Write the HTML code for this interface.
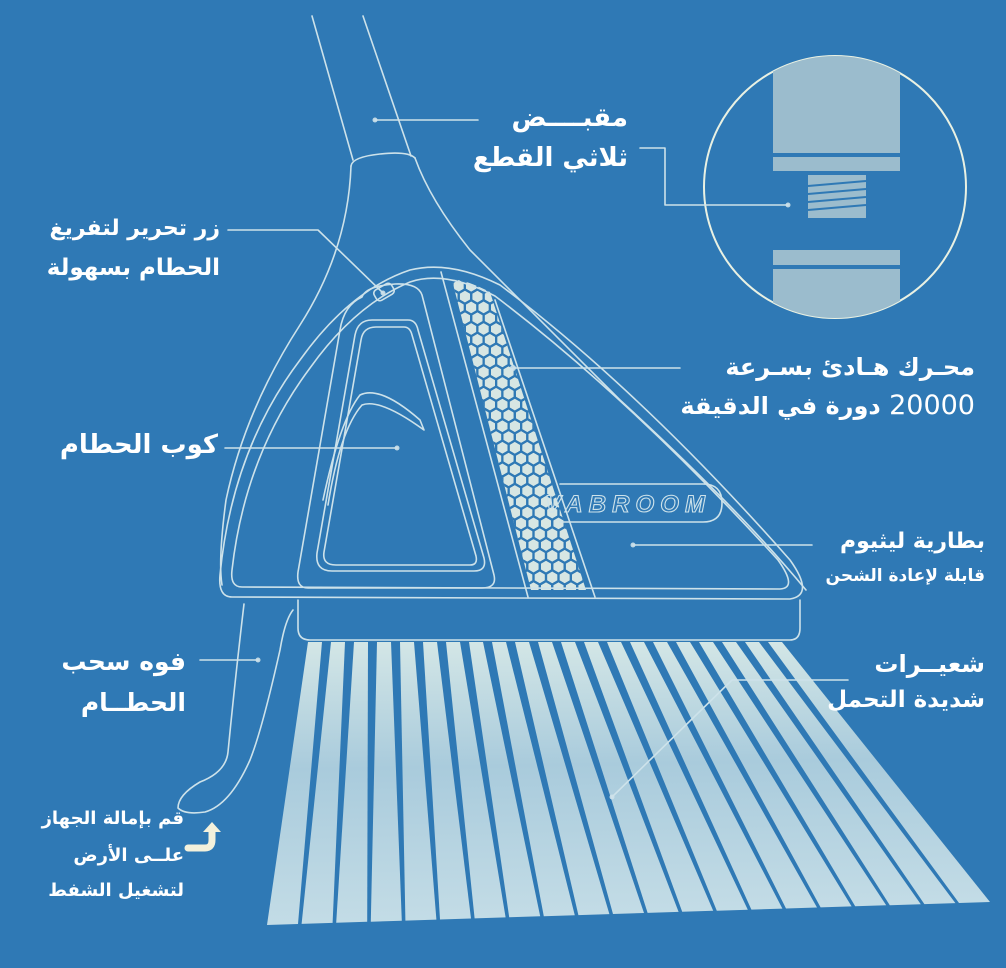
<!DOCTYPE html>
<html><head><meta charset="utf-8">
<style>
html,body{margin:0;padding:0;}
body{width:1006px;height:968px;background:#2f79b5;position:relative;overflow:hidden;font-family:"DejaVu Sans","Liberation Sans",sans-serif;}
svg{position:absolute;left:0;top:0;}
.t{position:absolute;color:#fff;font-weight:bold;direction:rtl;text-align:right;white-space:nowrap;line-height:1;}
</style></head><body>
<svg width="1006" height="968" viewBox="0 0 1006 968">
<defs>
<linearGradient id="br" x1="0" y1="0" x2="0" y2="1">
<stop offset="0" stop-color="#d3e6e6"/>
<stop offset="0.45" stop-color="#a9cbdc"/>
<stop offset="1" stop-color="#c3dce6"/>
</linearGradient>
<clipPath id="cc"><circle cx="835" cy="187" r="131"/></clipPath>
<clipPath id="hc"><path d="M452 280 Q462 278 490 292 L586 590 L531 590 Z"/></clipPath>
</defs>
<g id="bristles" fill="url(#br)">
</g>
<path d="M452 280 Q462 278 490 292 L586 590 L531 590 Z" fill="#d7e6e3"/>
<g id="hex" clip-path="url(#hc)" fill="none" stroke="#2f79b5" stroke-width="2.2"></g>
<g fill="none" stroke="#cde2ea" stroke-width="1.6" stroke-linecap="round" stroke-linejoin="round">
<!-- handle -->
<path d="M312 16 L353 160"/>
<path d="M363 16 L411 156"/>
<path d="M351 166 Q352 157 380 154 Q408 151 415 158"/>
<!-- cone -->
<path d="M351 166 Q348 250 300 325 Q245 410 226 500 Q218 560 222 585"/>
<path d="M415 158 Q430 200 470 250 Q520 300 620 400 Q740 510 806 590"/>
<!-- body outer -->
<path d="M232 597 Q218 597 220 575 Q232 450 300 360 Q350 290 410 270 Q450 260 500 285 Q640 390 790 560 Q815 595 790 599 Z"/>
<!-- body inner -->
<path d="M242 587 Q230 587 232 570 Q245 455 310 368 Q355 305 410 282 Q445 270 495 296 Q630 398 778 560 Q798 588 780 589 Z"/>
<!-- cup frame -->
<path d="M362 297 Q366 286 395 284 Q418 283 422 295 L494 575 Q497 588 482 588 L308 588 Q296 588 298 572 L340 330 Q344 305 362 297 Z"/>
<!-- window -->
<path d="M372 320 L408 320 Q416 320 418 330 L484 558 Q487 571 474 571 L332 571 Q315 571 317 553 L355 335 Q358 320 372 320 Z"/>
<path d="M376 327 L404 327 Q410 327 412 335 L476 556 Q478 565 470 565 L336 565 Q322 565 324 552 L361 340 Q363 327 376 327 Z"/>
<path d="M323 500 Q340 420 360 395 Q380 385 420 420 L424 430 Q380 398 362 405 Q340 430 328 505"/>
<!-- strip lines -->
<path d="M441 272 L528 597"/>
<path d="M495 300 L595 597"/>
<!-- button -->
<rect x="374" y="286" width="20" height="12" rx="4" transform="rotate(-30 384 292)"/>
<!-- pill -->
<path d="M560 484 L703 484 Q722 484 722 503 Q722 522 703 522 L560 522" />
<!-- base -->
<path d="M298 600 L298 628 Q298 640 310 640 L790 640 Q800 640 800 628 L800 600"/>
<!-- leg -->
<path d="M244 604 Q235 680 228 752 Q226 772 200 782 Q178 795 178 808 Q185 815 205 812 Q230 805 250 760 Q262 730 280 650 Q285 620 293 610"/>
<!-- circle -->
<circle cx="835" cy="187" r="131" stroke="#e9f1e3" stroke-width="2"/>
<!-- connectors -->
<path d="M375 120 L478 120"/>
<path d="M640 148 L665 148 L665 205 L788 205"/>
<path d="M228 230 L318 230 L383 293"/>
<path d="M225 448 L397 448"/>
<path d="M513 368 L680 368"/>
<path d="M633 545 L812 545"/>
<path d="M200 660 L258 660"/>
<path d="M612 797 L732 680 L848 680"/>
</g>
<g clip-path="url(#cc)" fill="#9bbccd">
<rect x="773" y="40" width="127" height="113"/>
<path d="M773 157 L900 157 L900 171 L773 171 Z"/>
<rect x="808" y="175" width="58" height="43"/>
<rect x="773" y="250" width="127" height="15"/>
<rect x="773" y="269" width="127" height="80"/>
</g>
<g stroke="#2f79b5" stroke-width="2">
<path d="M808 186 L866 181 M808 194 L866 189 M808 202 L866 197 M808 210 L866 205"/>
</g>
<g fill="#cfe2ea" opacity="0.9">
<circle cx="375" cy="120" r="2.5"/><circle cx="788" cy="205" r="2.5"/><circle cx="383" cy="293" r="2.5"/>
<circle cx="397" cy="448" r="2.5"/><circle cx="513" cy="368" r="3"/><circle cx="633" cy="545" r="2.5"/>
<circle cx="258" cy="660" r="2.5"/><circle cx="612" cy="797" r="2.5"/>
</g>
<text x="625" y="512" font-family="Liberation Sans, sans-serif" font-style="italic" font-weight="bold" font-size="24" fill="none" stroke="#cde2ea" stroke-width="1.1" text-anchor="middle" textLength="160">VABROOM</text>
<!-- arrow -->
<path d="M188 848 L205 848 Q212 848 212 840 L212 830" fill="none" stroke="#f3f1dc" stroke-width="7" stroke-linecap="round"/>
<path d="M203 832 L212 822 L221 832 Z" fill="#f3f1dc"/>
</svg>
<div class="t" style="right:378px;top:105px;font-size:26px">مقبــــض</div>
<div class="t" style="right:378px;top:145px;font-size:26px">ثلاثي القطع</div>
<div class="t" style="right:786px;top:218px;font-size:22px">زر تحرير لتفريغ</div>
<div class="t" style="right:786px;top:257px;font-size:23px">الحطام بسهولة</div>
<div class="t" style="right:788px;top:432px;font-size:26px">كوب الحطام</div>
<div class="t" style="right:31px;top:355px;font-size:24px">محـرك هـادئ بسـرعة</div>
<div class="t" style="right:31px;top:392px;font-size:24px"><span style="font-weight:normal;font-size:27px">20000</span> دورة في الدقيقة</div>
<div class="t" style="right:21px;top:531px;font-size:22px">بطارية ليثيوم</div>
<div class="t" style="right:21px;top:568px;font-size:17px">قابلة لإعادة الشحن</div>
<div class="t" style="right:21px;top:652px;font-size:24px">شعيــرات</div>
<div class="t" style="right:21px;top:689px;font-size:23px">شديدة التحمل</div>
<div class="t" style="right:820px;top:649px;font-size:25px">فوه سحب</div>
<div class="t" style="right:820px;top:690px;font-size:25px">الحطــام</div>
<div class="t" style="right:822px;top:810px;font-size:18px">قم بإمالة الجهاز</div>
<div class="t" style="right:822px;top:847px;font-size:18px">علــى الأرض</div>
<div class="t" style="right:822px;top:882px;font-size:18px">لتشغيل الشفط</div>
<script>
(function(){
var ns="http://www.w3.org/2000/svg";
var g=document.getElementById("bristles");
var n=21;
for(var i=0;i<n;i++){
 var tx=308+i*23, tw=14;
 var bx=267+i*34.6, bw=31;
 var by=925-i*1.1;
 var p=document.createElementNS(ns,"polygon");
 p.setAttribute("points",tx+",642 "+(tx+tw)+",642 "+(bx+bw)+","+(by-1)+" "+bx+","+by);
 g.appendChild(p);
}
var h=document.getElementById("hex");
var R=7.2, dx=R*Math.sqrt(3), dy=R*1.5;
for(var r=0;r<45;r++){
 for(var c=0;c<12;c++){
  var y=275+r*dy;
  var x=440+c*dx+(r%2?dx/2:0);
  var e=document.createElementNS(ns,"polygon");
  var pts=[];
  for(var k=0;k<6;k++){var a=Math.PI/3*k+Math.PI/6;pts.push((x+R*Math.cos(a)).toFixed(1)+","+(y+R*Math.sin(a)).toFixed(1));}
  e.setAttribute("points",pts.join(" "));
  h.appendChild(e);
 }
}
})();
</script>
</body></html>
